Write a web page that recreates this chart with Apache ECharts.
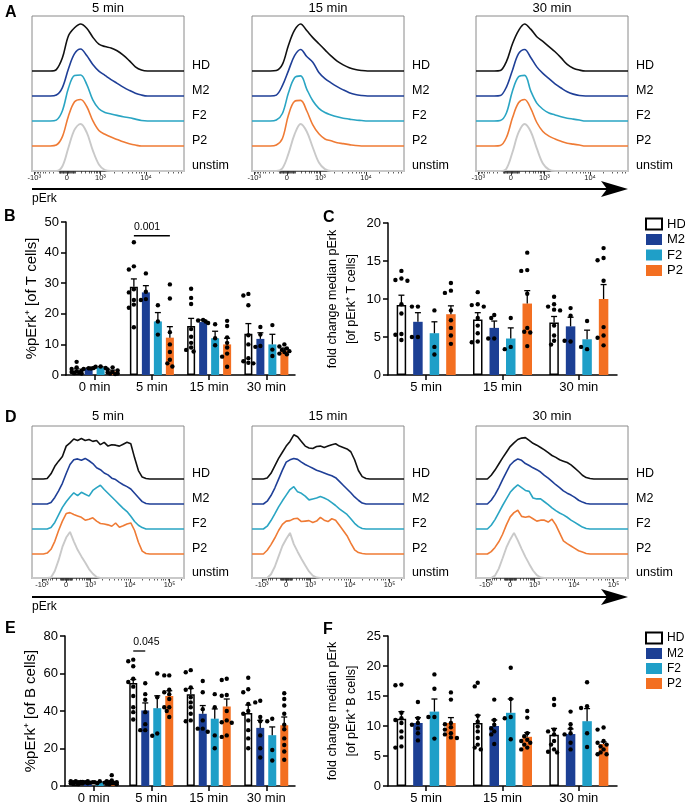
<!DOCTYPE html>
<html><head><meta charset="utf-8">
<script src="https://cdn.jsdelivr.net/npm/echarts@6/dist/echarts.min.js"></script>
<style>html,body{margin:0;padding:0;background:#fff}#c{width:685px;height:805px}</style>
</head><body><div id="c"></div>
<script>
// ================= DATA =================
const histGroups = ['HD', 'M2', 'F2', 'P2', 'unstim'];
const histTimes = ['5 min', '15 min', '30 min'];

// Panel A (T cells) histograms, normalized to mode, x in % of axis width
const histXA = [0,4,8,12,16,20,24,28,32,36,40,44,48,52,56,60,64,68,72,76,80,84,88,92,96,100];
const histA5 = [
  [0,0,0,0,3,28,75,92,100,91,72,57,52,49,43,34,22,9,2,0,0,0,0,0,0,0],
  [0,0,0,0,2,18,58,90,100,86,67,53,44,35,27,19,12,6,2,0,0,0,0,0,0,0],
  [0,0,0,0,2,22,70,97,98,78,45,26,18,15,12,9,7,4,1,0,0,0,0,0,0,0],
  [0,0,0,0,2,20,64,94,99,84,54,33,25,19,14,9,5,2,0,0,0,0,0,0,0,0],
  [0,0,0,0,0,10,50,88,100,82,44,14,2,0,0,0,0,0,0,0,0,0,0,0,0,0]
];
const histA15 = [
  [0,0,0,0,1,14,55,87,100,86,71,58,45,32,21,13,7,3,1,0,0,0,0,0,0,0],
  [0,0,0,0,2,22,54,86,99,84,72,50,37,28,20,13,7,3,1,0,0,0,0,0,0,0],
  [0,0,0,0,2,16,60,92,96,68,43,27,18,13,9,6,4,2,1,0,0,0,0,0,0,0],
  [0,0,0,0,2,16,66,95,97,75,45,26,15,11,7,5,3,1,0,0,0,0,0,0,0,0],
  [0,0,0,0,0,6,37,78,100,84,50,18,4,0,0,0,0,0,0,0,0,0,0,0,0,0]
];
const histA30 = [
  [0,0,0,0,1,20,58,86,100,89,73,63,52,41,28,14,6,2,0,0,0,0,0,0,0,0],
  [0,0,0,0,1,19,55,90,99,82,62,48,37,26,17,9,4,1,0,0,0,0,0,0,0,0],
  [0,0,0,0,1,17,64,94,97,64,38,25,17,13,9,6,4,2,0,0,0,0,0,0,0,0],
  [0,0,0,0,1,18,60,92,99,80,50,31,21,15,10,6,4,2,0,0,0,0,0,0,0,0],
  [0,0,0,0,0,5,40,82,100,84,48,16,3,0,0,0,0,0,0,0,0,0,0,0,0,0]
];

// Panel D (B cells) histograms
const histXD = [0,2.5,5,7.5,10,12.5,15,17.5,20,22.5,25,27.5,30,32.5,35,37.5,40,42.5,45,47.5,50,52.5,55,57.5,60,62.5,65,67.5,70,72.5,75,77.5,80,82.5,85,87.5,90,92.5,95,97.5,100];
const histD5 = [
  [0,0,0,0,1,11,27,38,48,70,77,85,82,86,82,84,80,82,73,78,70,73,72,70,74,78,75,45,18,4,1,0,0,0,0,0,0,0,0,0,0],
  [0,0,0,0,0,3,14,28,44,65,84,94,96,93,97,92,86,77,73,66,62,55,52,46,41,37,32,23,14,5,1,0,0,0,0,0,0,0,0,0,0],
  [0,0,0,0,0,3,14,30,46,58,68,77,71,78,74,70,82,88,93,84,76,68,60,52,44,37,27,16,8,3,0,0,0,0,0,0,0,0,0,0,0],
  [0,0,0,0,2,10,27,50,70,86,88,84,81,78,72,74,77,70,65,64,62,59,66,57,60,64,66,50,25,6,1,0,0,0,0,0,0,0,0,0,0],
  [0,0,0,0,0,1,15,38,66,86,98,78,60,46,33,19,9,2,0,0,0,0,0,0,0,0,0,0,0,0,0,0,0,0,0,0,0,0,0,0,0]
];
const histD15 = [
  [0,0,0,0,2,12,28,44,57,70,80,94,90,80,70,66,65,69,70,67,70,73,75,70,67,64,58,41,18,5,1,0,0,0,0,0,0,0,0,0,0],
  [0,0,0,0,6,18,34,53,72,89,94,97,95,89,84,80,76,72,69,66,63,60,56,48,40,32,24,15,8,2,0,0,0,0,0,0,0,0,0,0,0],
  [0,0,0,0,6,18,32,47,60,72,84,90,79,76,70,62,64,66,69,66,62,56,50,43,37,31,22,12,5,1,0,0,0,0,0,0,0,0,0,0,0],
  [0,0,0,0,8,20,34,50,63,70,71,75,76,69,70,71,67,70,78,72,69,75,72,61,50,39,23,9,3,1,0,0,0,0,0,0,0,0,0,0,0],
  [0,0,0,0,0,8,24,46,68,83,96,72,56,41,27,14,5,1,0,0,0,0,0,0,0,0,0,0,0,0,0,0,0,0,0,0,0,0,0,0,0]
];
const histD30 = [
  [0,0,0,0,8,19,32,45,57,69,77,84,87,88,82,76,72,67,62,56,50,46,41,38,35,30,23,16,8,3,1,0,0,0,0,0,0,0,0,0,0],
  [0,0,0,0,8,20,35,52,68,83,91,96,93,86,82,77,73,68,61,55,48,41,35,28,23,19,14,8,4,1,0,0,0,0,0,0,0,0,0,0,0],
  [0,0,0,0,8,20,35,50,64,78,87,94,88,82,80,66,64,64,58,52,45,39,34,30,25,19,14,9,4,1,0,0,0,0,0,0,0,0,0,0,0],
  [0,0,0,0,5,14,26,42,62,79,88,93,80,78,80,75,70,72,72,68,74,62,45,28,22,17,12,7,4,1,0,0,0,0,0,0,0,0,0,0,0],
  [0,0,0,0,0,5,20,42,65,82,96,80,62,45,30,16,6,1,0,0,0,0,0,0,0,0,0,0,0,0,0,0,0,0,0,0,0,0,0,0,0]
];

// Histogram axis tick labels (value = position on biexponential channel axis, 0-100)
const tickLabelsA = ['-10³', '0', '10³', '10⁴'];
const tickValsA = [1.5, 23, 45, 75];
const tickLabelsD = ['-10³', '0', '10³', '10⁴', '10⁵'];
const tickValsD = [6.5, 22.5, 38.5, 64.5, 90.5];

// Bar charts
const barGroups = ['HD', 'M2', 'F2', 'P2'];
const catsBE = ['0 min', '5 min', '15 min', '30 min'];
const catsCF = ['5 min', '15 min', '30 min'];

// B: %pErk+ of T cells
const bMean = [[1.5, 28.8, 16, 13.5], [2.2, 27, 17.3, 11.8], [2.5, 17.5, 12, 10], [1.2, 12.2, 10, 8]];
const bSem  = [[0.5, 2.6, 2.5, 3.3], [0.1, 2.2, 0.7, 2.0], [0.2, 2.9, 2.3, 3.3], [0.4, 3.6, 2.0, 0.8]];
const bPoints = [
  [[4.3,2.5,2,1.5,1.2,1,0.8,0.6,0.5], [43.4,35.5,34.5,28,27,24.5,23,22,15.6], [28.2,25.2,23.2,15,12.5,10.5,9,8.2,7.7], [26.5,26,22.8,13,10,5.5,4.5,4,3.8]],
  [[2.2,2,2.3,2.1], [33.2,27.2,24.8,24.5], [18,17.8,17,17.5], [15.7,13.2,9.5,9.2]],
  [[2.8,2.7,2.3], [22.8,17.5,13.2], [16.6,12,9.7], [16.3,8.3,6.2]],
  [[2.5,1.8,1.5,1,0.8,0.5,0.5,0.3], [29.6,25,14,10,7.5,5,3.8,2.8], [17.7,16,12.3,10.5,9,7,6,2.7], [10,9.3,8.7,8.2,7.8,7.5,7,6.8]]
];
const bSigText = '0.001';
const bSigY = 45.5;

// C: fold change median pErk, T cells
const cMean = [[9.2, 7.3, 6.9], [7.0, 6.2, 6.4], [5.5, 4.8, 4.7], [8.0, 9.4, 10.0]];
const cSem  = [[1.3, 0.9, 0.8], [1.2, 0.9, 1.2], [1.5, 1.4, 1.2], [1.1, 1.7, 1.9]];
const cPoints = [
  [[13.7,12.7,12.5,12.4,9.3,8.1,5.4,5.3,4.6], [10.9,9.3,9.2,9.0,7.5,6.5,5.5,4.4,4.3], [10.3,9.3,9.0,8.6,8.5,6.5,5.2,4.5,4.0]],
  [[9.0,9.0,5.0,5.0], [7.9,7.5,4.8,4.8], [8.8,7.8,4.4,4.5]],
  [[8.5,3.7,2.7], [7.5,3.7,3.4], [7.1,3.4,3.7]],
  [[12.1,11.1,10.8,8.5,7.2,6.2,5.2,4.1], [16.1,13.8,13.7,10.7,6.2,5.7,5.6,3.8], [16.7,15.4,15.1,12.4,6.3,5.2,4.9,3.9]]
];

// E: %pErk+ of B cells
const eMean = [[2, 55, 49, 39], [2, 40.3, 38.5, 31], [2, 41.5, 35.9, 27.1], [2, 48, 42.4, 32.4]];
const eSem  = [[0.3, 1.8, 3, 4.2], [0.2, 4, 4.4, 4], [0.2, 6.6, 5.2, 4.4], [0.5, 2.8, 4, 4.4]];
const ePoints = [
  [[2.5,2.5,2.2,2,2,1.8,1.5,1.5,1.2,1], [67.4,66.5,63.9,57.2,55.5,53,48,42,39.4,35.5], [61.8,60.7,52.5,51.3,47.3,44.6,42,38.5,35,34.5], [57.7,51.6,50,43.7,40,38.5,35,29.8,25.4,20.1]],
  [[2.5,2.2,2,2,1.8,1.5,1.5], [54.8,49,46,39.4,33,29.8,29.8], [56,50,41,35,30.6,30.6,28.9], [45.5,44.6,36.8,34.5,27,20.1,15.2]],
  [[2.5,2,1.8,1.5], [60,47.3,28,26.8], [49,42,27,20.1], [35.9,34.5,19.2,13.6]],
  [[5.8,3,2.5,2,2,1.5,1.5,1.2,1,1], [59,59,51.3,50,49,46.4,42,42,40,36.8], [57.2,56.5,48.5,48.1,40,35,34,33.7,27,26.2], [49.5,46.4,42.9,38.5,32.7,30.3,25.4,21.9,18.4,14]]
];
const eSigText = '0.045';
const eSigY = 72;

// F: fold change median pErk, B cells
const fMean = [[11.2, 10.5, 8.55], [10.5, 10.0, 8.66], [12.4, 12.2, 10.8], [10.5, 8.2, 7.0]];
const fSem  = [[1.2, 1.3, 1.05], [0.9, 1.0, 0.85], [2.1, 2.3, 2.1], [0.9, 0.7, 0.35]];
const fPoints = [
  [[16.9,16.8,12.2,11.3,11,10.5,9.1,8.1,6.6,6.4], [17.2,16.6,11.7,10.7,9.9,9.1,8,6.9,6.4,6.1], [14.5,13.5,9.4,9.1,8.6,7.5,6.9,6.1,5.7,5.6]],
  [[14,11.3,10.5,10.2,9.6,8.8,7.6], [14.4,11,10.2,9.6,9.1,8.6,7.0], [12.4,10.3,9.6,8.8,8.6,7.2,6.1]],
  [[18.6,16.2,11.5,11.5,7.9], [19.7,14.5,11.5,11.3,7.8], [17.3,13.3,13,8.8,6.5]],
  [[15.6,14.4,10.5,10.3,9.8,9.4,8.8,8.6,8.1,8], [12.5,11.4,8.8,8.3,7.7,7.5,7.2,6.9,6.4,6.1], [9.75,9.4,7.5,7.2,6.9,6.6,6.1,5.6,5.3,5.3]]
];

// ================= STYLE / LAYOUT =================
const FONT = "'Liberation Sans', Arial, Helvetica, sans-serif";
const histColors = ['#111111', '#1f3f97', '#2aa5c3', '#ef7b35', '#c9c9c9'];
const histWidths = [1.6, 1.6, 1.6, 1.6, 1.9];
const barColors = ['#ffffff', '#1c3f94', '#1f9fc8', '#f36f21'];

const option = {
  animation: false,
  backgroundColor: '#ffffff',
  grid: [], xAxis: [], yAxis: [], series: [], graphic: [],
  legend: [
    { data: barGroups, orient: 'vertical', left: 645, top: 217.5, padding: 0, itemWidth: 16, itemHeight: 11, itemGap: 2.5,
      icon: 'rect', selectedMode: false, textStyle: { fontSize: 13, color: '#000', fontFamily: FONT } },
    { data: barGroups, orient: 'vertical', left: 645, top: 631.5, padding: 0, itemWidth: 16, itemHeight: 11, itemGap: 3,
      icon: 'rect', selectedMode: false, textStyle: { fontSize: 12, color: '#000', fontFamily: FONT } }
  ]
};

function biexPos(v, z, neg, pos, dec) {
  if (v >= 1000) return z + pos + dec * Math.log10(v / 1000);
  if (v <= -1000) return z - neg;
  const s = Math.asinh(Math.abs(v) / 150) / Math.asinh(1000 / 150);
  return v >= 0 ? z + pos * s : z - neg * s;
}
function minorTicks(z, neg, pos, dec) {
  const vals = [];
  const raw = [];
  for (let k = 1; k <= 9; k++) { raw.push(-k * 100, -k * 10, k * 10, k * 100); }
  for (let k = 2; k <= 9; k++) { raw.push(k * 1000, k * 10000); }
  raw.push(200000);
  raw.forEach(v => { const p = biexPos(v, z, neg, pos, dec); if (p > 0.3 && p < 99.7) vals.push(+p.toFixed(3)); });
  return vals;
}

function addHistPanel(data, xs, left, top, height, bases, tickVals, tickLabels, minors, smooth, title, titleY) {
  const gi = option.grid.length;
  option.grid.push({ left, top, width: 152, height, show: true, borderColor: '#8a8a8a', borderWidth: 1, backgroundColor: 'rgba(0,0,0,0)' });
  option.xAxis.push({
    gridIndex: gi, type: 'value', min: 0, max: 100, position: 'bottom',
    axisLine: { show: true, onZero: false, lineStyle: { color: '#666', width: 1 } },
    axisTick: { show: true, customValues: tickVals, length: 4, lineStyle: { color: '#333', width: 1 } },
    axisLabel: { show: true, customValues: tickVals, margin: 3, fontSize: 7.5, color: '#222', fontFamily: FONT,
      formatter: v => { let bi = 0; tickVals.forEach((t, i) => { if (Math.abs(t - v) < Math.abs(tickVals[bi] - v)) bi = i; }); return tickLabels[bi]; } },
    splitLine: { show: false }
  });
  option.xAxis.push({
    gridIndex: gi, type: 'value', min: 0, max: 100, position: 'bottom',
    axisLine: { show: false }, axisLabel: { show: false }, splitLine: { show: false },
    axisTick: { show: true, customValues: minors, length: 2.5, lineStyle: { color: '#333', width: 0.8 } }
  });
  option.yAxis.push({ gridIndex: gi, type: 'value', min: 0, max: 1, show: false });

  for (let k = 0; k < 5; k++) {
    const cg = option.grid.length;
    option.grid.push({ left, top: top + bases[k] - 47, width: 152, height: 47 });
    option.xAxis.push({ gridIndex: cg, type: 'value', min: 0, max: 100, show: false });
    option.yAxis.push({ gridIndex: cg, type: 'value', min: 0, max: 100, show: false });
    option.series.push({
      type: 'line', name: 'hist-' + title + '-' + histGroups[k],
      xAxisIndex: option.xAxis.length - 1, yAxisIndex: option.yAxis.length - 1,
      data: xs.map((x, i) => [x, data[k][i]]),
      showSymbol: false, symbol: 'none', smooth: smooth ? 0.35 : false, clip: false, silent: true,
      lineStyle: { color: histColors[k], width: histWidths[k] }, z: 2 + k,
      endLabel: { show: true, formatter: histGroups[k], distance: 8, offset: [0, -5], fontSize: 12.5, color: '#000', fontFamily: FONT }
    });
  }
  option.graphic.push({ type: 'text', x: left + 76, y: titleY,
    style: { text: title, font: '13px ' + FONT, fill: '#000', textAlign: 'center', align: 'center', textVerticalAlign: 'middle', verticalAlign: 'middle' } });
}

const minA = minorTicks(23, 21.5, 22, 30);
const minD = minorTicks(22.5, 16, 16, 26);
const basesA = [55, 80, 105, 130, 155];
const basesD = [53, 78, 103, 128, 152];
const lefts = [32, 252, 476];
[histA5, histA15, histA30].forEach((d, i) => addHistPanel(d, histXA, lefts[i], 16, 155, basesA, tickValsA, tickLabelsA, minA, true, histTimes[i], 8));
[histD5, histD15, histD30].forEach((d, i) => addHistPanel(d, histXD, lefts[i], 426, 152, basesD, tickValsD, tickLabelsD, minD, false, histTimes[i], 416));

function jitterFor(list, pxPerUnit, spread) {
  const placed = [];
  return list.map(v => {
    const y = v * pxPerUnit;
    const cands = [0, -spread, spread, -2 * spread, 2 * spread];
    let best = 0, bestD = -1;
    for (const c of cands) {
      let md = Infinity;
      placed.forEach(p => { const d = Math.hypot(p[0] - c, p[1] - y); if (d < md) md = d; });
      if (md >= 4.2) { best = c; bestD = Infinity; break; }
      if (md > bestD) { bestD = md; best = c; }
    }
    placed.push([best, y]);
    return best;
  });
}

function addBarPanel(cfg) {
  const gi = option.grid.length;
  option.grid.push({ left: cfg.left, top: cfg.top, width: cfg.width, height: cfg.height });
  const xi = option.xAxis.length;
  option.xAxis.push({
    gridIndex: gi, type: 'category', data: cfg.cats,
    axisLine: { show: true, lineStyle: { color: '#000', width: 1.5 } },
    axisTick: { show: true, alignWithLabel: true, length: 5, lineStyle: { color: '#000', width: 1.5 } },
    axisLabel: { interval: 0, fontSize: 13, color: '#000', margin: 6, fontFamily: FONT },
    splitLine: { show: false }
  });
  const yi = option.yAxis.length;
  option.yAxis.push({
    gridIndex: gi, type: 'value', min: 0, max: cfg.ymax, interval: cfg.interval,
    axisLine: { show: true, lineStyle: { color: '#000', width: 1.5 } },
    axisTick: { show: true, length: 5, lineStyle: { color: '#000', width: 1.5 } },
    axisLabel: { fontSize: 13, color: '#000', margin: 7, fontFamily: FONT },
    splitLine: { show: false },
    name: cfg.yName, nameLocation: 'middle', nameGap: cfg.nameGap,
    nameTextStyle: { fontSize: cfg.nameSize, color: '#000', fontFamily: FONT, lineHeight: cfg.nameLH }
  });
  const step = cfg.barWidth + cfg.gapPx;
  barGroups.forEach((g, s) => {
    option.series.push({
      type: 'bar', name: g, xAxisIndex: xi, yAxisIndex: yi, data: cfg.means[s],
      barWidth: cfg.barWidth, barGap: (cfg.gapPx / cfg.barWidth * 100).toFixed(1) + '%', silent: true, z: 2,
      itemStyle: s === 0 ? { color: '#ffffff', borderColor: '#000', borderWidth: 1.5 } : { color: barColors[s] }
    });
  });
  const errData = [];
  cfg.means.forEach((row, s) => row.forEach((m, c) => errData.push([c, s, m, cfg.sems[s][c]])));
  option.series.push({
    type: 'custom', name: 'err', xAxisIndex: xi, yAxisIndex: yi, data: errData, encode: { x: 0, y: 2 }, z: 4, silent: true,
    renderItem: (p, api) => {
      const c = api.value(0), s = api.value(1), m = api.value(2), e = api.value(3);
      const p0 = api.coord([c, m]), p1 = api.coord([c, m + e]);
      const x = p0[0] + (s - 1.5) * step;
      return { type: 'group', children: [
        { type: 'line', shape: { x1: x, y1: p0[1], x2: x, y2: p1[1] }, style: { stroke: '#000', lineWidth: 1.3 } },
        { type: 'line', shape: { x1: x - 3, y1: p1[1], x2: x + 3, y2: p1[1] }, style: { stroke: '#000', lineWidth: 1.3 } }
      ] };
    }
  });
  const pxPerUnit = cfg.height / cfg.ymax;
  const dotData = [];
  cfg.points.forEach((grp, s) => grp.forEach((list, c) => {
    const j = jitterFor(list, pxPerUnit, cfg.spread);
    list.forEach((v, i) => dotData.push([c, s, v, j[i]]));
  }));
  option.series.push({
    type: 'custom', name: 'dots', xAxisIndex: xi, yAxisIndex: yi, data: dotData, encode: { x: 0, y: 2 }, z: 5, silent: true,
    renderItem: (p, api) => {
      const c = api.value(0), s = api.value(1), v = api.value(2), j = api.value(3);
      const pt = api.coord([c, v]);
      return { type: 'circle', shape: { cx: pt[0] + (s - 1.5) * step + j, cy: pt[1], r: 2.2 }, style: { fill: '#000' } };
    }
  });
  if (cfg.sig) {
    option.series.push({
      type: 'custom', name: 'sig', xAxisIndex: xi, yAxisIndex: yi, data: [cfg.sig.data], encode: { x: 0, y: 3 }, z: 5, silent: true,
      renderItem: (p, api) => {
        const c = api.value(0), s1 = api.value(1), s2 = api.value(2), y = api.value(3);
        const pt = api.coord([c, y]);
        const x1 = pt[0] + (s1 - 1.5) * step, x2 = pt[0] + (s2 - 1.5) * step;
        return { type: 'group', children: [
          { type: 'line', shape: { x1, y1: pt[1], x2, y2: pt[1] }, style: { stroke: '#000', lineWidth: 1.3 } },
          { type: 'text', x: x1, y: pt[1] - 3, style: { text: cfg.sig.text, font: '10.5px ' + FONT, fill: '#000',
            textAlign: 'left', align: 'left', textVerticalAlign: 'bottom', verticalAlign: 'bottom' } }
        ] };
      }
    });
  }
}

addBarPanel({ left: 66, top: 222, width: 229, height: 153, cats: catsBE, means: bMean, sems: bSem, points: bPoints,
  ymax: 50, interval: 10, barWidth: 8, gapPx: 4, spread: 2.5, yName: '%pErk⁺ [of T cells]', nameGap: 25, nameSize: 15, nameLH: 17,
  sig: { data: [1, 0, 3, bSigY], text: bSigText } });
addBarPanel({ left: 388, top: 223, width: 229, height: 152, cats: catsCF, means: cMean, sems: cSem, points: cPoints,
  ymax: 20, interval: 5, barWidth: 9.5, gapPx: 7, spread: 3, yName: 'fold change median pErk\n[of pErk⁺ T cells]', nameGap: 27, nameSize: 12.5, nameLH: 19 });
addBarPanel({ left: 65, top: 636, width: 230, height: 152, cats: catsBE, means: eMean, sems: eSem, points: ePoints,
  ymax: 80, interval: 20, barWidth: 8, gapPx: 4, spread: 2.5, yName: '%pErk⁺ [of B cells]', nameGap: 25, nameSize: 15, nameLH: 17,
  sig: { data: [1, 0, 1, eSigY], text: eSigText } });
addBarPanel({ left: 388, top: 636, width: 229, height: 153, cats: catsCF, means: fMean, sems: fSem, points: fPoints,
  ymax: 25, interval: 5, barWidth: 9.5, gapPx: 7, spread: 3, yName: 'fold change median pErk\n[of pErk⁺ B cells]', nameGap: 27, nameSize: 12.5, nameLH: 19 });

// panel letters, arrows, axis titles
function txt(x, y, t, font, align) {
  option.graphic.push({ type: 'text', x, y, style: { text: t, font, fill: '#000', textAlign: align || 'left', align: align || 'left', textVerticalAlign: 'middle', verticalAlign: 'middle' } });
}
[['A', 5, 13], ['B', 4, 217], ['C', 323, 218], ['D', 5, 418], ['E', 5, 629], ['F', 323, 630]]
  .forEach(l => txt(l[1], l[2], l[0], 'bold 16px ' + FONT));
[189, 597].forEach(y => {
  option.graphic.push({ type: 'line', shape: { x1: 32, y1: y, x2: 612, y2: y }, style: { stroke: '#000', lineWidth: 2 } });
  option.graphic.push({ type: 'polygon', shape: { points: [[628, y], [601, y - 8], [607, y], [601, y + 8]] }, style: { fill: '#000' } });
  txt(32, y + 10, 'pErk', '12px ' + FONT);
});

const chart = echarts.init(document.getElementById('c'), null, { renderer: 'canvas' });
chart.setOption(option);
</script></body></html>
